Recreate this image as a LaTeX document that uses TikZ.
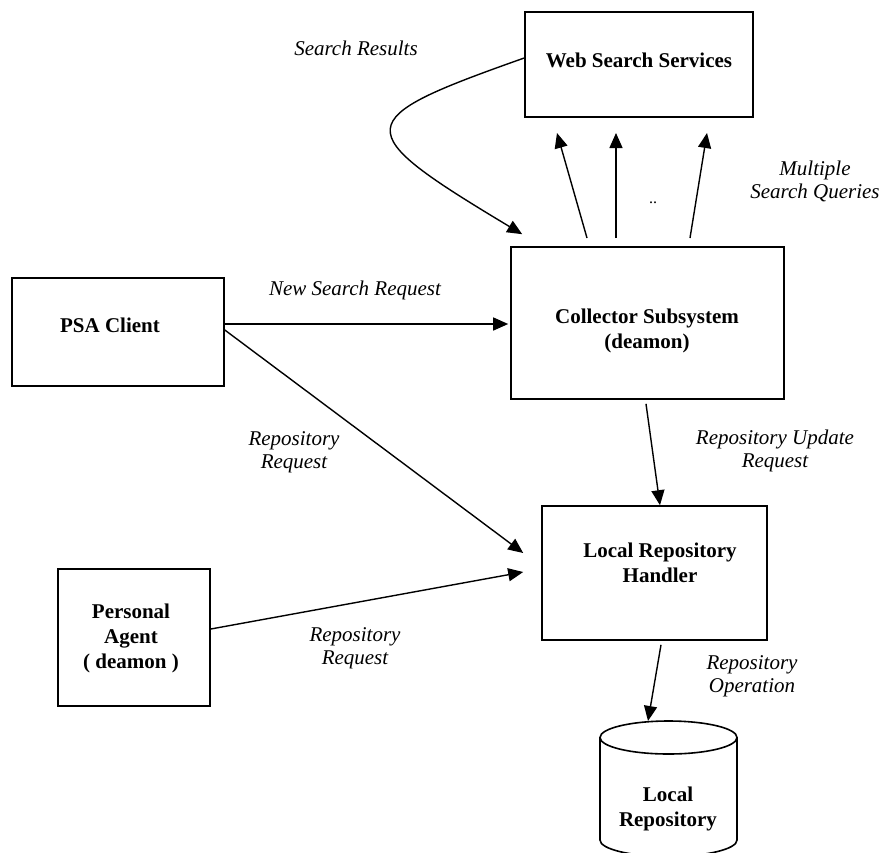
\documentclass[tikz,border=0pt]{standalone}
\usepackage{fontspec}
\setmainfont{Liberation Serif}
\usetikzlibrary{arrows.meta,calc}
\begin{document}
\begin{tikzpicture}[x=0.5pt,y=-0.5pt,
  box/.style={draw,line width=0.8pt,inner sep=0pt},
  btext/.style={font=\fontsize{10.5}{12.5}\selectfont\bfseries,align=center,inner sep=0pt},
  itext/.style={font=\fontsize{10.5}{11.5}\selectfont\itshape,align=center,inner sep=0pt},
  arr/.style={-{Triangle[length=7.5pt,width=6.5pt]},line width=0.7pt}]
\useasboundingbox (0,0) rectangle (884,852);
\clip (0,0) rectangle (884,852);

% boxes
\node[box,minimum width=114pt,minimum height=52.5pt] (web) at (639,64.5) {};
\node[box,minimum width=106pt,minimum height=54pt] (psa) at (118,332) {};
\node[box,minimum width=136.5pt,minimum height=76pt] (col) at (647.5,323) {};
\node[box,minimum width=112.5pt,minimum height=67pt] (hand) at (654.5,573) {};
\node[box,minimum width=76pt,minimum height=68.5pt] (pa) at (134,637.5) {};

% box texts
\node[btext] (webt) at (639,60) {Web Search Services};
\node[btext] (psat) at (110,325) {PSA Client};
\node[btext] (colt) at (647,331) {Collector Subsystem\\(deamon)};
\node[btext] (handt) at (660,563) {Local Repository\\Handler};
\node[btext] (pat) at (131,638) {Personal\\Agent\\( deamon )};

% cylinder
\draw[line width=0.8pt] (668.5,737.5) ellipse [x radius=34.25pt,y radius=8.25pt];
\draw[line width=0.8pt] (600,737.5) -- (600,840)
  arc[start angle=180,end angle=360,x radius=34.25pt,y radius=8.25pt]
  -- (737,737.5);
\coordinate (cyltop) at (648,721);
\node[btext] (repot) at (668,809) {Local\\Repository};

% curved search results arrow
\draw[arr] ($(web.west)+(0,-6.5)$) .. controls (349,120) and (347,129) .. ($(col.north west)+(12,-12)$);

% multiple search queries
\coordinate (q1s) at (587,238);
\coordinate (q2s) at (616,238);
\coordinate (q3s) at (690,238);
\coordinate (q1e) at (557,133);
\coordinate (q2e) at (616,133);
\coordinate (q3e) at (707,133);
\draw[arr] (q1s) -- (q1e);
\draw[arr] (q2s) -- (q2e);
\draw[arr] (q3s) -- (q3e);
\node[font=\fontsize{8}{9}\selectfont,inner sep=0pt] (dots) at (653,203) {..};

% other connectors
\draw[arr] ($(psa.east)+(0,-8)$) -- ($(col.west)+(-2,1)$);
\draw[arr] ($(psa.east)+(0,-2)$) -- ($(hand.west)+(-18,-20)$);
\draw[arr] ($(pa.east)+(0,-8.5)$) -- ($(hand.west)+(-18,-1)$);
\draw[arr] ($(col.south)+(-1.5,4)$) -- ($(hand.north)+(5.5,0)$);
\draw[arr] ($(hand.south)+(6.5,4)$) -- (cyltop);

% labels
\node[itext] (l1) at (356,48) {Search Results};
\node[itext] (l2) at (815,181) {Multiple\\Search Queries};
\node[itext] (l3) at (355,290) {New Search Request};
\node[itext] (l4) at (294,452) {Repository\\Request};
\node[itext] (l5) at (775,451) {Repository Update\\Request};
\node[itext] (l6) at (355,648) {Repository\\Request};
\node[itext] (l7) at (752,676) {Repository\\Operation};
\end{tikzpicture}
\end{document}
